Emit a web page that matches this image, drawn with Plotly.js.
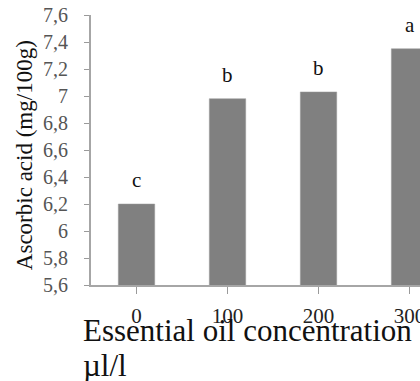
<!DOCTYPE html>
<html>
<head>
<meta charset="utf-8">
<script src="https://cdn.plot.ly/plotly-3.0.1.min.js"></script>
<style>
html,body{margin:0;padding:0;background:#fff;overflow:hidden;}
#chart{width:420px;height:381px;}
</style>
</head>
<body>
<div id="chart"></div>
<script>
// Data
const categories = ['0', '100', '200', '300'];
const ascorbicAcid = [6.2, 6.98, 7.03, 7.35];
const sigLetters = ['c', 'b', 'b', 'a'];
const yTickVals = [5.6, 5.8, 6.0, 6.2, 6.4, 6.6, 6.8, 7.0, 7.2, 7.4, 7.6];
const yTickText = ['5,6', '5,8', '6', '6,2', '6,4', '6,6', '6,8', '7', '7,2', '7,4', '7,6'];
const xTitleLines = ['Essential oil concentration', 'µl/l'];
const yTitle = 'Ascorbic acid (mg/100g)';

const serif = 'Liberation Serif, Times New Roman, serif';

const trace = {
  type: 'bar',
  x: [0, 1, 2, 3],
  y: ascorbicAcid,
  marker: {color: '#808080', line: {color: '#9a9a9a', width: 0.5}},
  hoverinfo: 'skip'
};

const annotations = [];
sigLetters.forEach((t, i) => {
  annotations.push({
    x: i, y: ascorbicAcid[i], xref: 'x', yref: 'y',
    text: t, showarrow: false, yanchor: 'bottom', yshift: 10,
    font: {family: serif, size: 21, color: '#111'}
  });
});
annotations.push({
  xref: 'paper', yref: 'paper', x: -0.0304, y: -0.17,
  xanchor: 'left', yanchor: 'middle', text: xTitleLines[0], showarrow: false,
  font: {family: serif, size: 31, color: '#111'}
});
annotations.push({
  xref: 'paper', yref: 'paper', x: -0.0304, y: -0.298,
  xanchor: 'left', yanchor: 'middle', text: xTitleLines[1], showarrow: false,
  font: {family: serif, size: 31, color: '#111'}
});
annotations.push({
  xref: 'paper', yref: 'paper', x: -0.2036, y: 0.481,
  xanchor: 'center', yanchor: 'middle', textangle: -90, text: yTitle, showarrow: false,
  font: {family: serif, size: 23, color: '#111'}
});

const layout = {
  width: 420, height: 381,
  margin: {l: 91, r: 0, t: 15, b: 96, pad: 0},
  paper_bgcolor: '#ffffff', plot_bgcolor: '#ffffff',
  showlegend: false,
  bargap: 0.6,
  xaxis: {
    range: [-0.5, 3.115],
    tickmode: 'array', tickvals: [0, 1, 2, 3], ticktext: categories,
    tickson: 'boundaries',
    ticks: 'outside', ticklen: 7, tickcolor: '#9a9a9a', tickwidth: 1,
    ticklabelstandoff: 4,
    ticklabeloverflow: 'allow',
    showline: true, linecolor: '#a6a6a6', linewidth: 2,
    showgrid: false, zeroline: false,
    tickfont: {family: serif, size: 21, color: '#222'}
  },
  yaxis: {
    range: [5.6, 7.6],
    tickmode: 'array', tickvals: yTickVals, ticktext: yTickText,
    ticks: 'outside', ticklen: 5, tickcolor: '#9a9a9a', tickwidth: 1,
    ticklabelstandoff: 12,
    showline: true, linecolor: '#a6a6a6', linewidth: 2,
    showgrid: false, zeroline: false,
    tickfont: {family: serif, size: 20, color: '#555'}
  },
  annotations: annotations
};

Plotly.newPlot('chart', [trace], layout, {displayModeBar: false, staticPlot: true});
</script>
</body>
</html>
